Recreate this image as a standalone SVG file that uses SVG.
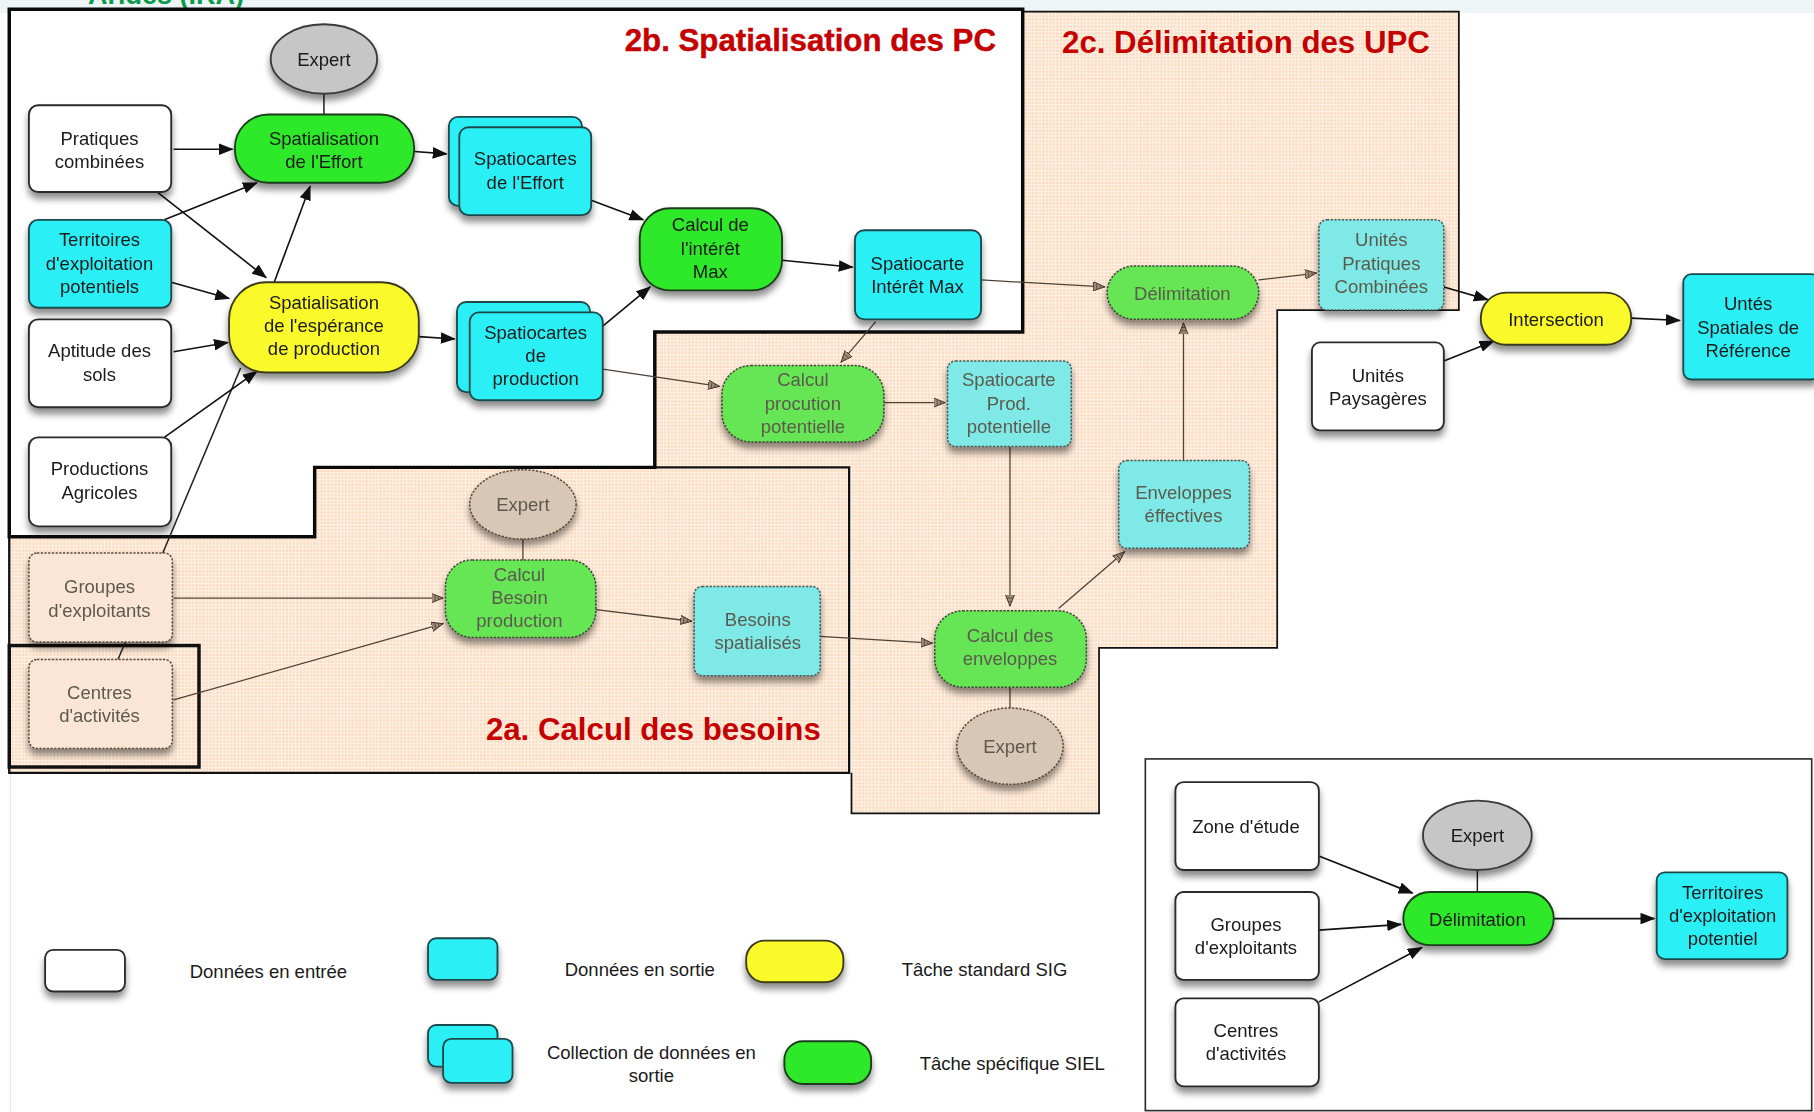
<svg xmlns="http://www.w3.org/2000/svg" width="1814" height="1112" viewBox="0 0 1814 1112">
  <defs>
    <style>
      text { font-family: "Liberation Sans", Arial, sans-serif; font-size: 16px; fill: #1a1a1a; text-anchor: middle; }
      .title { font-size: 27px; font-weight: bold; fill: #c40000; text-anchor: start; }
      .faint text, text.faint { fill: #5c5a4e; }
      .in { fill: #ffffff; stroke: #2a2a2a; stroke-width: 1.6; }
      .out { fill: #2cf0f6; stroke: #1d4a4e; stroke-width: 1.6; }
      .std { fill: #fafa2a; stroke: #3a3a1a; stroke-width: 1.6; }
      .spec { fill: #2fe82a; stroke: #1c3d1a; stroke-width: 1.6; }
      .exp { fill: #c6c6c6; stroke: #3a3a3a; stroke-width: 1.6; }
      .f-in { fill: #fbe6d6; stroke: #5a4a3e; stroke-width: 1.3; stroke-dasharray: 2 1.2; }
      .f-out { fill: #7ee9e6; stroke: #4a5a58; stroke-width: 1.3; stroke-dasharray: 2 1.2; }
      .f-spec { fill: #66e655; stroke: #3e4a36; stroke-width: 1.3; stroke-dasharray: 2 1.2; }
      .f-exp { fill: #d9c7b6; stroke: #5a4a3e; stroke-width: 1.3; stroke-dasharray: 2 1.2; }
      .zone { fill: url(#peach); }
      .wire { fill: none; stroke: #111; stroke-width: 1.4; marker-end: url(#head); }
      .wire-f { fill: none; stroke: #4e4236; stroke-width: 1.1; marker-end: url(#headF); }
      .link { fill: none; stroke: #222; stroke-width: 1.3; }
      .link-f { fill: none; stroke: #4e4236; stroke-width: 1.1; }
    </style>
    <pattern id="peach" width="3" height="3" patternUnits="userSpaceOnUse">
      <rect width="3" height="3" fill="#fbdcc2"/>
      <path d="M0 0.4H3M0.4 0V3" stroke="#fff2e6" stroke-width="0.9"/>
    </pattern>
    <filter id="sh" x="-20%" y="-20%" width="140%" height="160%">
      <feGaussianBlur in="SourceAlpha" stdDeviation="3"/>
      <feOffset dy="5" result="b"/>
      <feComponentTransfer in="b" result="s"><feFuncA type="linear" slope="0.45"/></feComponentTransfer>
      <feMerge><feMergeNode in="s"/><feMergeNode in="SourceGraphic"/></feMerge>
    </filter>
    <marker id="head" markerUnits="userSpaceOnUse" markerWidth="13" markerHeight="10" refX="12" refY="5" orient="auto">
      <path d="M0 0L13 5L0 10z" fill="#111"/>
    </marker>
    <marker id="headF" markerUnits="userSpaceOnUse" markerWidth="11" markerHeight="9" refX="10" refY="4.5" orient="auto">
      <path d="M0 0.5L10 4.5L0 8.5z" fill="#a08c78" stroke="#3e342a" stroke-width="0.8"/>
      <path d="M3 1.7V7.3M6 3V6" stroke="#3e342a" stroke-width="0.6"/>
    </marker>
  </defs>

  <rect width="1814" height="1112" fill="#ffffff"/>
  <!-- pale band along the top edge with the clipped heading -->
  <rect x="0" y="0" width="1814" height="13" fill="#eef5f6"/>
  <text x="88" y="4" style="font-size:27px;font-weight:bold;fill:#0a9a4a;text-anchor:start">Arides (IRA)</text>

  <g transform="scale(1.1569)">
    <!-- faint left margin rule -->
    <line x1="9" y1="668" x2="9" y2="961" stroke="#f2e4d6" stroke-width="1"/>

    <!-- section areas -->
    <g id="zone-2c">
      <path class="zone" d="M884 10H1261V268H1104V560H950V703H736V404H566V287H884Z"/>
      <path d="M884 10H1261V268H1104V560H950V703H736V668" fill="none" stroke="#111" stroke-width="1.5"/>
      <text class="title" x="918" y="46">2c. Délimitation des UPC</text>
    </g>
    <g id="zone-2a">
      <path class="zone" d="M272 404H734V668H8V464H272Z"/>
      <path d="M272 404H734V668H8V464" fill="none" stroke="#111" stroke-width="2"/>
      <rect x="8" y="558" width="164" height="105" fill="none" stroke="#111" stroke-width="3"/>
      <text class="title" x="420" y="640">2a. Calcul des besoins</text>
    </g>
    <g id="zone-2b">
      <path d="M8 8H884V287H566V404H272V464H8Z" fill="#ffffff" stroke="#0a0a0a" stroke-width="3"/>
      <text class="title" x="540" y="44" style="stroke:#c40000;stroke-width:0.4">2b. Spatialisation des PC</text>
    </g>

    <!-- territory delimitation inset frame -->
    <g id="inset">
      <rect x="990" y="656" width="576" height="304" fill="#ffffff" stroke="#2a2a2a" stroke-width="1.4"/>
    </g>

    <!-- connectors -->
    <g id="connectors">
      <line class="link" x1="280" y1="81" x2="280" y2="99"/>
      <line class="link" x1="102" y1="570" x2="208" y2="318"/>
      <line class="wire" x1="150" y1="129" x2="201" y2="129"/>
      <line class="wire" x1="136" y1="166" x2="230" y2="240"/>
      <line class="wire" x1="142" y1="190" x2="222" y2="158"/>
      <line class="wire" x1="148" y1="244" x2="198" y2="258"/>
      <line class="wire" x1="150" y1="304" x2="197" y2="296"/>
      <line class="wire" x1="142" y1="378" x2="222" y2="321"/>
      <line class="wire" x1="237" y1="244" x2="268" y2="161"/>
      <line class="wire" x1="358" y1="131" x2="386" y2="133"/>
      <line class="wire" x1="362" y1="291" x2="393" y2="293"/>
      <line class="wire" x1="511" y1="173" x2="556" y2="190"/>
      <line class="wire" x1="521" y1="282" x2="562" y2="248"/>
      <line class="wire" x1="676" y1="225" x2="737" y2="231"/>
      <line class="wire-f" x1="848" y1="242" x2="955" y2="248"/>
      <line class="wire-f" x1="757" y1="278" x2="727" y2="313"/>
      <line class="wire-f" x1="521" y1="319" x2="622" y2="334"/>
      <line class="wire-f" x1="764" y1="348" x2="817" y2="348"/>
      <line class="wire-f" x1="873" y1="386" x2="873" y2="524"/>
      <line class="wire-f" x1="1023" y1="398" x2="1023" y2="279"/>
      <line class="wire-f" x1="915" y1="526" x2="972" y2="477"/>
      <line class="wire-f" x1="1088" y1="242" x2="1138" y2="236"/>
      <line class="wire" x1="1248" y1="248" x2="1286" y2="259"/>
      <line class="wire" x1="1248" y1="312" x2="1291" y2="295"/>
      <line class="wire" x1="1410" y1="275" x2="1452" y2="277"/>
      <line class="link-f" x1="873" y1="594" x2="873" y2="612"/>
      <line class="link-f" x1="452" y1="466" x2="452" y2="484"/>
      <line class="wire-f" x1="150" y1="517" x2="383" y2="517"/>
      <line class="wire-f" x1="150" y1="605" x2="383" y2="539"/>
      <line class="wire-f" x1="515" y1="527" x2="598" y2="537"/>
      <line class="wire-f" x1="709" y1="550" x2="806" y2="556"/>
      <line class="link" x1="1277" y1="752" x2="1277" y2="771"/>
      <line class="wire" x1="1140" y1="740" x2="1221" y2="772"/>
      <line class="wire" x1="1140" y1="804" x2="1211" y2="799"/>
      <line class="wire" x1="1140" y1="866" x2="1229" y2="819"/>
      <line class="wire" x1="1343" y1="794" x2="1430" y2="794"/>
    </g>

    <!-- 2b nodes -->
    <g id="expert-effort" filter="url(#sh)">
      <ellipse class="exp" cx="280" cy="51" rx="46" ry="30"/>
      <text x="280" y="57">Expert</text>
    </g>
    <g id="pratiques-combinees" filter="url(#sh)">
      <rect class="in" x="25" y="91" width="123" height="75" rx="8"/>
      <text x="86" y="125">Pratiques</text>
      <text x="86" y="145">combinées</text>
    </g>
    <g id="territoires-potentiels" filter="url(#sh)">
      <rect class="out" x="25" y="190" width="123" height="76" rx="8"/>
      <text x="86" y="213">Territoires</text>
      <text x="86" y="233">d'exploitation</text>
      <text x="86" y="253">potentiels</text>
    </g>
    <g id="aptitude-sols" filter="url(#sh)">
      <rect class="in" x="25" y="276" width="123" height="76" rx="8"/>
      <text x="86" y="309">Aptitude des</text>
      <text x="86" y="329">sols</text>
    </g>
    <g id="productions-agricoles" filter="url(#sh)">
      <rect class="in" x="25" y="378" width="123" height="77" rx="8"/>
      <text x="86" y="411">Productions</text>
      <text x="86" y="431">Agricoles</text>
    </g>
    <g id="spatialisation-effort" filter="url(#sh)">
      <rect class="spec" x="203" y="99" width="155" height="59" rx="29"/>
      <text x="280" y="125">Spatialisation</text>
      <text x="280" y="145">de l'Effort</text>
    </g>
    <g id="spatialisation-esperance" filter="url(#sh)">
      <rect class="std" x="198" y="244" width="164" height="78" rx="32"/>
      <text x="280" y="267">Spatialisation</text>
      <text x="280" y="287">de l'espérance</text>
      <text x="280" y="307">de production</text>
    </g>
    <g id="spatiocartes-effort" filter="url(#sh)">
      <rect class="out" x="388" y="101" width="115" height="77" rx="8"/>
      <rect class="out" x="397" y="110" width="114" height="76" rx="8"/>
      <text x="454" y="143">Spatiocartes</text>
      <text x="454" y="163">de l'Effort</text>
    </g>
    <g id="spatiocartes-production" filter="url(#sh)">
      <rect class="out" x="395" y="261" width="115" height="78" rx="8"/>
      <rect class="out" x="406" y="270" width="115" height="76" rx="8"/>
      <text x="463" y="293">Spatiocartes</text>
      <text x="463" y="313">de</text>
      <text x="463" y="333">production</text>
    </g>
    <g id="calcul-interet-max" filter="url(#sh)">
      <rect class="spec" x="553" y="180" width="123" height="71" rx="26"/>
      <text x="614" y="200">Calcul de</text>
      <text x="614" y="220">l'intérêt</text>
      <text x="614" y="240">Max</text>
    </g>
    <g id="spatiocarte-interet-max" filter="url(#sh)">
      <rect class="out" x="739" y="199" width="109" height="77" rx="8"/>
      <text x="793" y="233">Spatiocarte</text>
      <text x="793" y="253">Intérêt Max</text>
    </g>

    <!-- 2c nodes -->
    <g id="delimitation-upc" class="faint" filter="url(#sh)">
      <rect class="f-spec" x="957" y="230" width="131" height="46" rx="23"/>
      <text x="1022" y="259">Délimitation</text>
    </g>
    <g id="unites-pratiques-combinees" class="faint" filter="url(#sh)">
      <rect class="f-out" x="1140" y="190" width="108" height="78" rx="7"/>
      <text x="1194" y="213">Unités</text>
      <text x="1194" y="233">Pratiques</text>
      <text x="1194" y="253">Combinées</text>
    </g>
    <g id="calcul-production-potentielle" class="faint" filter="url(#sh)">
      <rect class="f-spec" x="624" y="316" width="140" height="66" rx="25"/>
      <text x="694" y="334">Calcul</text>
      <text x="694" y="354">procution</text>
      <text x="694" y="374">potentielle</text>
    </g>
    <g id="spatiocarte-prod-potentielle" class="faint" filter="url(#sh)">
      <rect class="f-out" x="819" y="312" width="107" height="74" rx="7"/>
      <text x="872" y="334">Spatiocarte</text>
      <text x="872" y="354">Prod.</text>
      <text x="872" y="374">potentielle</text>
    </g>
    <g id="enveloppes-effectives" class="faint" filter="url(#sh)">
      <rect class="f-out" x="967" y="398" width="113" height="76" rx="7"/>
      <text x="1023" y="431">Enveloppes</text>
      <text x="1023" y="451">éffectives</text>
    </g>
    <g id="calcul-enveloppes" class="faint" filter="url(#sh)">
      <rect class="f-spec" x="808" y="528" width="131" height="66" rx="24"/>
      <text x="873" y="555">Calcul des</text>
      <text x="873" y="575">enveloppes</text>
    </g>
    <g id="expert-enveloppes" class="faint" filter="url(#sh)">
      <ellipse class="f-exp" cx="873" cy="645" rx="46" ry="33"/>
      <text x="873" y="651">Expert</text>
    </g>

    <!-- 2a nodes -->
    <g id="expert-besoin" class="faint" filter="url(#sh)">
      <ellipse class="f-exp" cx="452" cy="436" rx="46" ry="30"/>
      <text x="452" y="442">Expert</text>
    </g>
    <g id="calcul-besoin-production" class="faint" filter="url(#sh)">
      <rect class="f-spec" x="385" y="484" width="130" height="67" rx="23"/>
      <text x="449" y="502">Calcul</text>
      <text x="449" y="522">Besoin</text>
      <text x="449" y="542">production</text>
    </g>
    <g id="groupes-exploitants" class="faint" filter="url(#sh)">
      <rect class="f-in" x="25" y="478" width="124" height="77" rx="7"/>
      <text x="86" y="513">Groupes</text>
      <text x="86" y="533">d'exploitants</text>
    </g>
    <g id="centres-activites" class="faint" filter="url(#sh)">
      <rect class="f-in" x="25" y="570" width="124" height="77" rx="7"/>
      <text x="86" y="604">Centres</text>
      <text x="86" y="624">d'activités</text>
    </g>
    <g id="besoins-spatialises" class="faint" filter="url(#sh)">
      <rect class="f-out" x="600" y="507" width="109" height="77" rx="7"/>
      <text x="655" y="541">Besoins</text>
      <text x="655" y="561">spatialisés</text>
    </g>

    <!-- final step -->
    <g id="intersection" filter="url(#sh)">
      <rect class="std" x="1280" y="253" width="130" height="45" rx="22"/>
      <text x="1345" y="282">Intersection</text>
    </g>
    <g id="unites-paysageres" filter="url(#sh)">
      <rect class="in" x="1134" y="296" width="114" height="76" rx="7"/>
      <text x="1191" y="330">Unités</text>
      <text x="1191" y="350">Paysagères</text>
    </g>
    <g id="unites-spatiales-reference" filter="url(#sh)">
      <rect class="out" x="1455" y="237" width="118" height="91" rx="7"/>
      <text x="1511" y="268">Untés</text>
      <text x="1511" y="289">Spatiales de</text>
      <text x="1511" y="309">Référence</text>
    </g>

    <!-- legend -->
    <g id="legend">
      <rect class="in" x="39" y="821" width="69" height="36" rx="7" filter="url(#sh)"/>
      <text x="232" y="845">Données en entrée</text>
      <rect class="out" x="370" y="811" width="60" height="36" rx="7" filter="url(#sh)"/>
      <text x="553" y="844">Données en sortie</text>
      <rect class="std" x="645" y="813" width="84" height="36" rx="16" filter="url(#sh)"/>
      <text x="851" y="844">Tâche standard SIG</text>
      <g filter="url(#sh)">
        <rect class="out" x="370" y="886" width="60" height="36" rx="7"/>
        <rect class="out" x="383" y="898" width="60" height="38" rx="7"/>
      </g>
      <text x="563" y="915">Collection de données en</text>
      <text x="563" y="935">sortie</text>
      <rect class="spec" x="678" y="900" width="75" height="37" rx="16" filter="url(#sh)"/>
      <text x="875" y="925">Tâche spécifique SIEL</text>
    </g>

    <!-- inset nodes -->
    <g id="zone-etude" filter="url(#sh)">
      <rect class="in" x="1016" y="676" width="124" height="76" rx="7"/>
      <text x="1077" y="720">Zone d'étude</text>
    </g>
    <g id="inset-groupes" filter="url(#sh)">
      <rect class="in" x="1016" y="771" width="124" height="76" rx="7"/>
      <text x="1077" y="805">Groupes</text>
      <text x="1077" y="825">d'exploitants</text>
    </g>
    <g id="inset-centres" filter="url(#sh)">
      <rect class="in" x="1016" y="863" width="124" height="76" rx="7"/>
      <text x="1077" y="896">Centres</text>
      <text x="1077" y="916">d'activités</text>
    </g>
    <g id="inset-expert" filter="url(#sh)">
      <ellipse class="exp" cx="1277" cy="722" rx="47" ry="30"/>
      <text x="1277" y="728">Expert</text>
    </g>
    <g id="inset-delimitation" filter="url(#sh)">
      <rect class="spec" x="1213" y="771" width="130" height="46" rx="23"/>
      <text x="1277" y="800">Délimitation</text>
    </g>
    <g id="inset-territoires" filter="url(#sh)">
      <rect class="out" x="1432" y="754" width="113" height="75" rx="7"/>
      <text x="1489" y="777">Territoires</text>
      <text x="1489" y="797">d'exploitation</text>
      <text x="1489" y="817">potentiel</text>
    </g>
  </g>
</svg>
